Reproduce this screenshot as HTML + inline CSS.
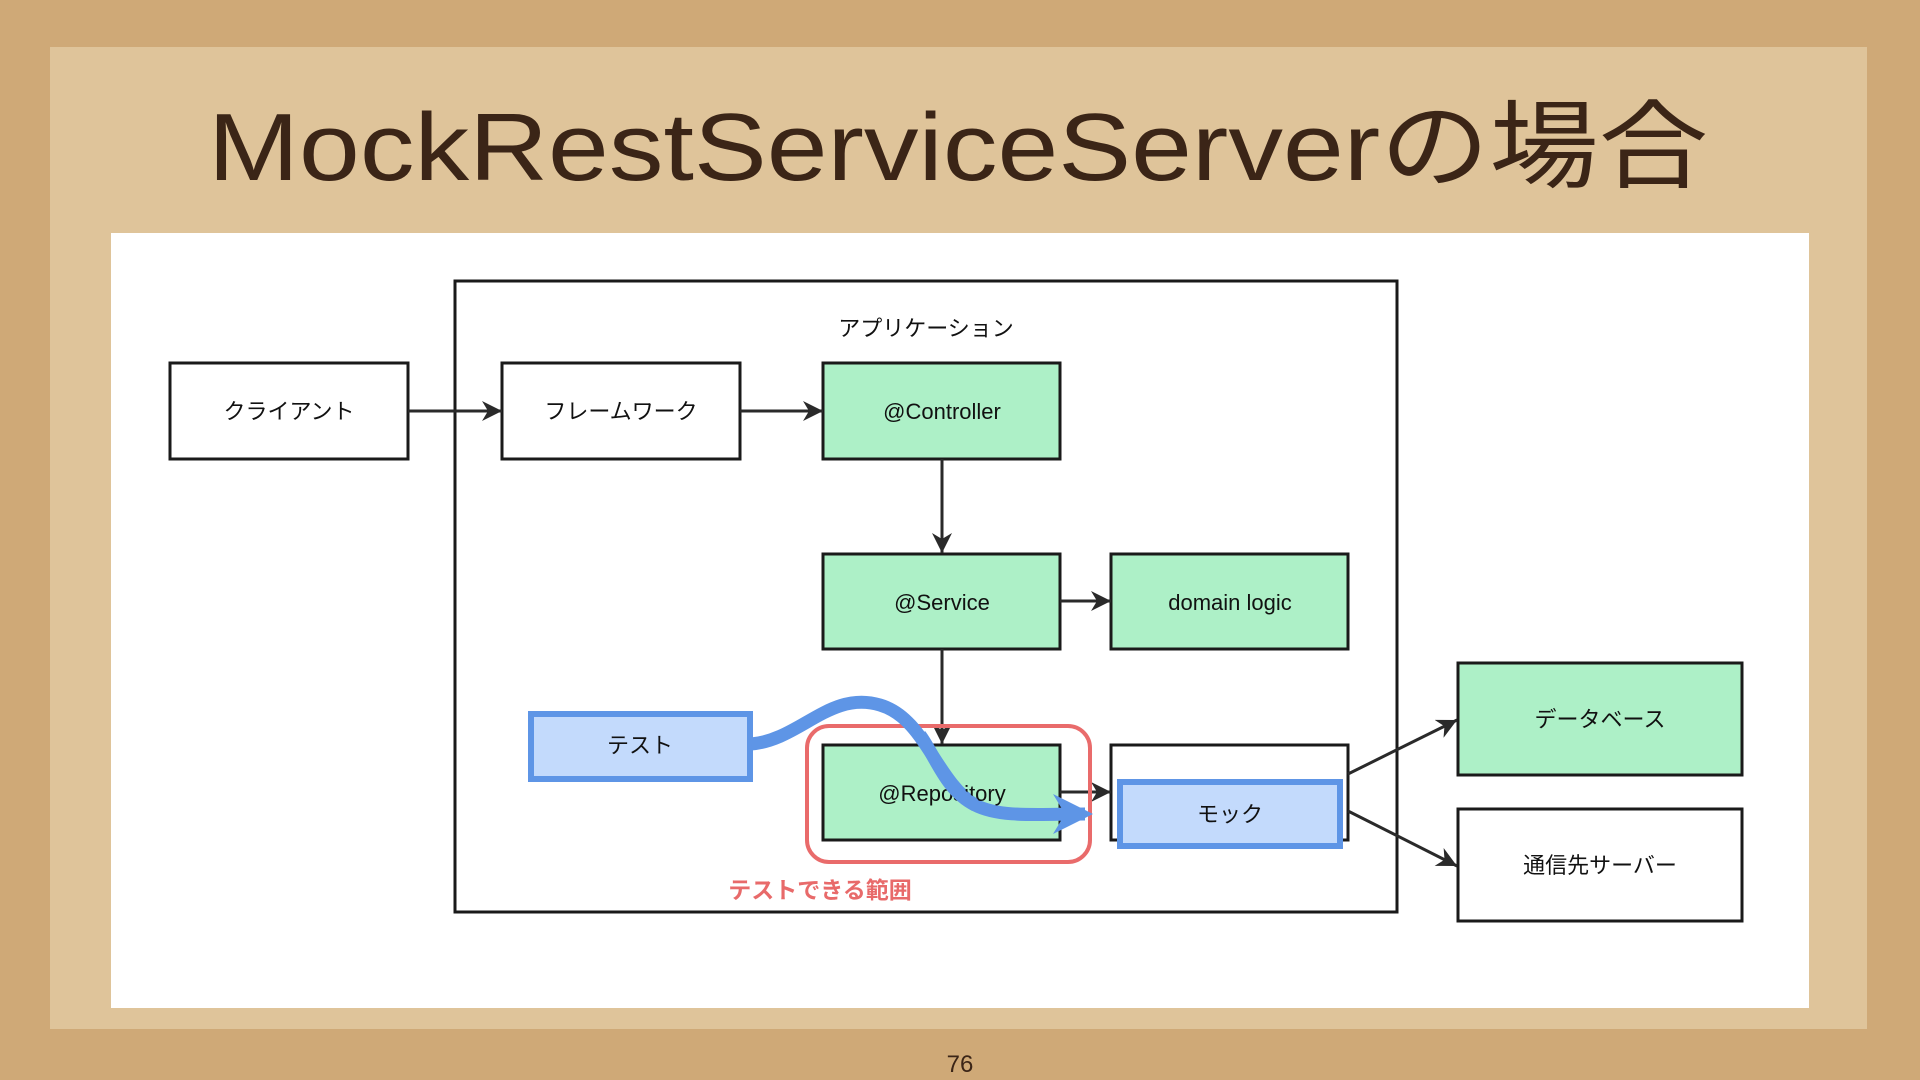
<!DOCTYPE html>
<html><head><meta charset="utf-8"><style>
html,body{margin:0;padding:0;width:1920px;height:1080px;overflow:hidden;background:#cfa977}
svg{display:block}
text{font-family:"Liberation Sans","Noto Sans CJK JP",sans-serif}
</style></head><body>
<svg width="1920" height="1080" viewBox="0 0 1920 1080" xmlns="http://www.w3.org/2000/svg">
<defs>
<marker id="ah" markerWidth="10" markerHeight="10" refX="9" refY="5" orient="auto" markerUnits="userSpaceOnUse"><path d="M0,0 L0,0 L10,5 L0,10 L3,5 Z" transform="scale(2)" fill="#222"/></marker>
<marker id="a" viewBox="0 0 10 10" refX="10" refY="5" markerWidth="20" markerHeight="20" orient="auto" markerUnits="userSpaceOnUse"><path d="M0,0 L10,5 L0,10 L3,5 Z" fill="#2a2a2a"/></marker>
<marker id="b" viewBox="0 0 10 10" refX="8" refY="5" markerWidth="40" markerHeight="40" orient="auto" markerUnits="userSpaceOnUse"><path d="M0,0 L10,5 L0,10 L3,5 Z" fill="#5e95e6"/></marker>
</defs>
<rect width="1920" height="1080" fill="#cfa977"/>
<rect x="50" y="47" width="1817" height="982" fill="#dfc49a"/>
<text x="958" y="180" text-anchor="middle" font-size="96" fill="#3b2517" textLength="1500" lengthAdjust="spacingAndGlyphs">MockRestServiceServerの場合</text>
<rect x="111" y="233" width="1698" height="775" fill="#fff"/>
<g stroke="#1a1a1a" stroke-width="3" fill="#fff">
<rect x="455" y="281" width="942" height="631"/>
<rect x="170" y="363" width="238" height="96"/>
<rect x="502" y="363" width="238" height="96"/>
<rect x="823" y="363" width="237" height="96" fill="#adf0c7"/>
<rect x="823" y="554" width="237" height="95" fill="#adf0c7"/>
<rect x="1111" y="554" width="237" height="95" fill="#adf0c7"/>
<rect x="823" y="745" width="237" height="95" fill="#adf0c7"/>
<rect x="1111" y="745" width="237" height="95"/>
<rect x="1458" y="663" width="284" height="112" fill="#adf0c7"/>
<rect x="1458" y="809" width="284" height="112"/>
</g>
<g stroke="#2a2a2a" stroke-width="3" fill="none">
<line x1="408" y1="411" x2="502" y2="411" marker-end="url(#a)"/>
<line x1="740" y1="411" x2="823" y2="411" marker-end="url(#a)"/>
<line x1="942" y1="459" x2="942" y2="553" marker-end="url(#a)"/>
<line x1="1060" y1="601" x2="1111" y2="601" marker-end="url(#a)"/>
<line x1="942" y1="649" x2="942" y2="744" marker-end="url(#a)"/>
<line x1="1060" y1="792" x2="1111" y2="792" marker-end="url(#a)"/>
<line x1="1348" y1="774" x2="1457" y2="720" marker-end="url(#a)"/>
<line x1="1348" y1="811" x2="1457" y2="866" marker-end="url(#a)"/>
</g>
<rect x="807" y="726" width="283" height="136" rx="22" fill="none" stroke="#e96b6b" stroke-width="4"/>
<rect x="531" y="714" width="219" height="65" fill="#c3dafc" stroke="#5e95e6" stroke-width="6"/>
<rect x="1120" y="782" width="220" height="64" fill="#c3dafc" stroke="#5e95e6" stroke-width="6"/>
<path d="M751,744 C800,740 830,690 880,705 C925,718 935,780 975,805 C1000,818 1040,814 1085,814" fill="none" stroke="#5e95e6" stroke-width="13" marker-end="url(#b)"/>
<g font-size="22" fill="#111" text-anchor="middle">
<text x="926" y="336">アプリケーション</text>
<text x="289" y="419">クライアント</text>
<text x="621" y="419">フレームワーク</text>
<text x="942" y="419">@Controller</text>
<text x="942" y="610">@Service</text>
<text x="1230" y="610">domain logic</text>
<text x="942" y="801">@Repository</text>
<text x="640" y="753">テスト</text>
<text x="1230" y="822">モック</text>
<text x="1600" y="727">データベース</text>
<text x="1600" y="873">通信先サーバー</text>
</g>
<path d="M920,735 C935,755 945,790 975,805" fill="none" stroke="#5e95e6" stroke-width="13"/>
<text x="820" y="898" text-anchor="middle" font-size="23" font-weight="bold" fill="#e86a6a">テストできる範囲</text>
<text x="960" y="1072" text-anchor="middle" font-size="24" fill="#3b2517">76</text>
</svg>
</body></html>
